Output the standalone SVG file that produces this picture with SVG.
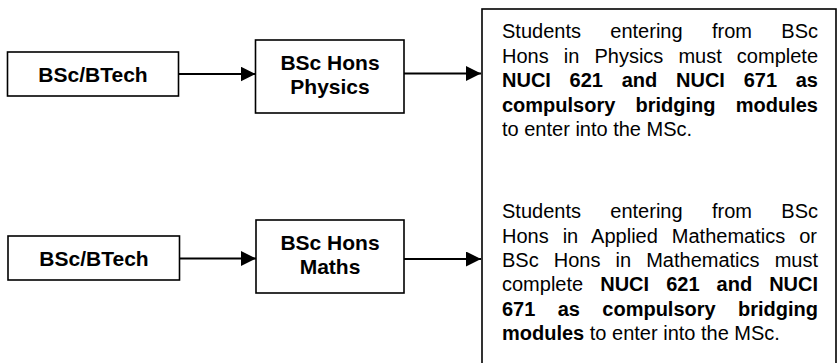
<svg xmlns="http://www.w3.org/2000/svg" width="838" height="363" viewBox="0 0 838 363">
<style>
.box{fill:#fff;stroke:#000;stroke-width:1.6}
.lbl{font-family:"Liberation Sans",Arial,sans-serif;font-size:21px;font-weight:bold;fill:#000;text-anchor:middle}
.para{font-family:"Liberation Sans",Arial,sans-serif;font-size:20px;fill:#000}
.b{font-weight:bold}
.conn{stroke:#000;stroke-width:2;fill:none;marker-end:url(#ah)}
</style>
<defs>
<marker id="ah" markerUnits="userSpaceOnUse" markerWidth="15" markerHeight="15" refX="15" refY="7.5" orient="auto">
<path d="M0,0 L15,7.5 L0,15 z" fill="#000"/>
</marker>
</defs>
<rect width="838" height="363" fill="#fff"/>
<g id="n-bsc1"><rect class="box" x="7.5" y="52" width="171" height="44"/><text class="lbl" x="93" y="81.5">BSc/BTech</text></g>
<g id="n-phys"><rect class="box" x="255.5" y="40" width="148.5" height="73"/><text class="lbl" x="330" y="70">BSc Hons</text><text class="lbl" x="330" y="94">Physics</text></g>
<g id="n-bsc2"><rect class="box" x="8" y="236" width="171.5" height="44"/><text class="lbl" x="94" y="265.5">BSc/BTech</text></g>
<g id="n-maths"><rect class="box" x="256" y="220" width="148" height="73"/><text class="lbl" x="330" y="250">BSc Hons</text><text class="lbl" x="330" y="274">Maths</text></g>
<g id="n-req"><rect class="box" x="482" y="9" width="354" height="362"/>
<text class="para" x="502" y="38.3" style="word-spacing:23.81px">Students entering from BSc</text>
<text class="para" x="502" y="62.7" style="word-spacing:9.53px">Hons in Physics must complete</text>
<text class="para b" x="502" y="87.1" style="word-spacing:13.18px">NUCI 621 and NUCI 671 as</text>
<text class="para b" x="502" y="111.5" style="word-spacing:14.64px">compulsory bridging modules</text>
<text class="para" x="502" y="135.9">to enter into the MSc.</text>
<text class="para" x="502" y="218.3" style="word-spacing:23.81px">Students entering from BSc</text>
<text class="para" x="502" y="242.6" style="word-spacing:8.42px">Hons in Applied Mathematics or</text>
<text class="para" x="502" y="266.9" style="word-spacing:9.53px">BSc Hons in Mathematics must</text>
<text class="para" x="502" y="291.2" style="word-spacing:11.49px">complete <tspan class="b">NUCI 621 and NUCI</tspan></text>
<text class="para b" x="502" y="315.5" style="word-spacing:16.79px">671 as compulsory bridging</text>
<text class="para" x="502" y="339.8"><tspan class="b">modules</tspan> to enter into the MSc.</text>
</g>
<g id="connectors">
<line class="conn" x1="178.5" y1="74" x2="255.5" y2="74"/>
<line class="conn" x1="404" y1="73.5" x2="481" y2="73.5"/>
<line class="conn" x1="179.5" y1="258.5" x2="256" y2="258.5"/>
<line class="conn" x1="404" y1="259" x2="481" y2="259"/>
</g>
</svg>
